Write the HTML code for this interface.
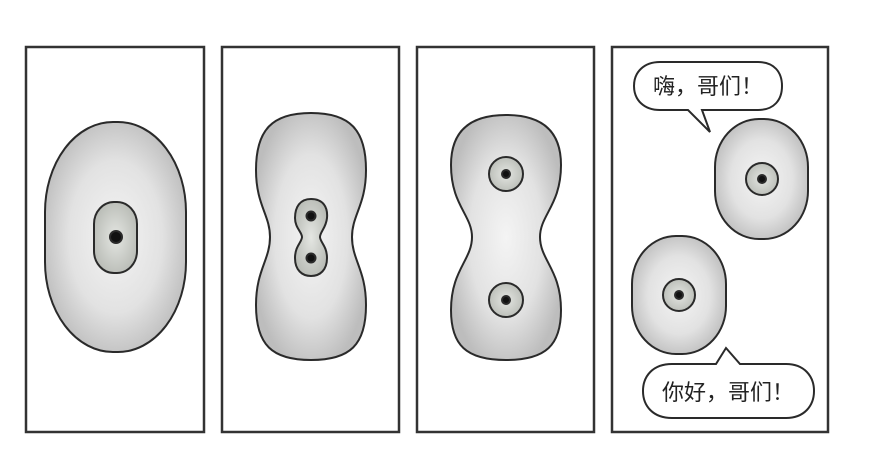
<!DOCTYPE html>
<html><head><meta charset="utf-8"><style>
body{margin:0;background:#fff;}
svg{display:block;}
text{font-family:"Liberation Sans","Noto Sans CJK SC",sans-serif;}
</style></head><body>
<svg width="880" height="476" viewBox="0 0 880 476">
<defs>
<radialGradient id="cg" cx="50%" cy="50%" r="55%">
<stop offset="0" stop-color="#f4f4f4"/><stop offset="0.6" stop-color="#e2e2e2"/><stop offset="1" stop-color="#bdbdbd"/>
</radialGradient>
<radialGradient id="ng" cx="50%" cy="50%" r="55%">
<stop offset="0" stop-color="#e4e6e2"/><stop offset="1" stop-color="#b9bcb6"/>
</radialGradient>
</defs>
<g stroke="#333" stroke-width="2.5" fill="#fff">
<rect x="26" y="47" width="178" height="385"/>
<rect x="222" y="47" width="177" height="385"/>
<rect x="417" y="47" width="177" height="385"/>
<rect x="612" y="47" width="216" height="385"/>
</g>
<g stroke="#2a2a2a" stroke-width="2">
<!-- panel 1 -->
<rect x="45" y="122" width="141" height="230" rx="68" ry="90" fill="url(#cg)"/>
<rect x="94" y="202" width="43" height="71" rx="20" ry="22" fill="url(#ng)"/>
<circle cx="116" cy="237" r="6" fill="#111"/>
<!-- panel 2 -->
<path fill="url(#cg)" d="M311,113 C350,113 366,130 366,170 C366,205 352,215 352,237 C352,260 366,270 366,305 C366,345 350,360 311,360 C272,360 256,345 256,305 C256,270 270,260 270,237 C270,215 256,205 256,170 C256,130 272,113 311,113 Z"/>
<path fill="url(#ng)" d="M311,199 C323,199 328,207 327,218 C326,228 320,232 320,237 C320,242 327,246 327,258 C327,270 320,276 311,276 C302,276 295,270 295,258 C295,246 302,242 302,237 C302,232 295,228 295,218 C295,207 300,199 311,199 Z"/>
<circle cx="311" cy="216" r="4.5" fill="#111"/>
<circle cx="311" cy="258" r="4.5" fill="#111"/>
<!-- panel 3 -->
<path fill="url(#cg)" d="M506,115 C546,115 561,135 561,165 C561,205 540,215 540,237 C540,260 561,270 561,310 C561,345 546,360 506,360 C466,360 451,345 451,310 C451,270 472,260 472,237 C472,215 451,205 451,165 C451,135 466,115 506,115 Z"/>
<circle cx="506" cy="174" r="17" fill="url(#ng)"/>
<circle cx="506" cy="300" r="17" fill="url(#ng)"/>
<circle cx="506" cy="174" r="4" fill="#111"/>
<circle cx="506" cy="300" r="4" fill="#111"/>
<!-- panel 4 -->
<rect x="715" y="119" width="93" height="120" rx="44" ry="48" fill="url(#cg)"/>
<circle cx="762" cy="179" r="16" fill="url(#ng)"/>
<circle cx="762" cy="179" r="4" fill="#111"/>
<rect x="632" y="236" width="94" height="118" rx="44" ry="48" fill="url(#cg)"/>
<circle cx="679" cy="295" r="16" fill="url(#ng)"/>
<circle cx="679" cy="295" r="4" fill="#111"/>
<path fill="#fff" d="M660,62 L758,62 C774,62 782,72 782,86 C782,100 774,110 758,110 L702,110 L710,132 L688,110 L660,110 C644,110 634,100 634,86 C634,72 644,62 660,62 Z"/>
<path fill="#fff" d="M672,364 L716,364 L726,348 L740,364 L786,364 C804,364 814,376 814,391 C814,406 804,418 786,418 L672,418 C653,418 643,406 643,391 C643,376 653,364 672,364 Z"/>
</g>
<text x="708" y="94" font-size="22" text-anchor="middle" fill="#222">嗨，哥们！</text>
<text x="728" y="400" font-size="22" text-anchor="middle" fill="#222">你好，哥们！</text>
</svg>
</body></html>
